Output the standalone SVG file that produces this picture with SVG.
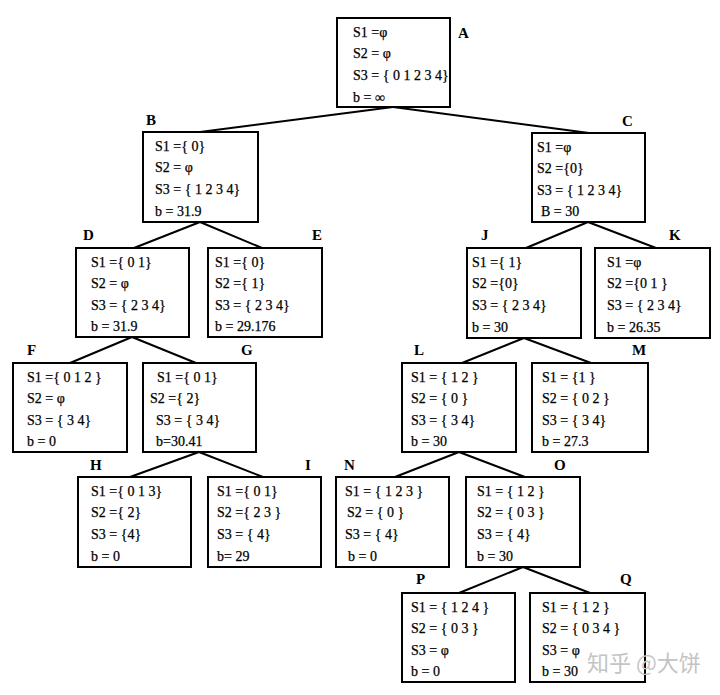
<svg xmlns="http://www.w3.org/2000/svg" width="720" height="695" viewBox="0 0 720 695">
<style>
.bx{fill:#fff;stroke:#000;stroke-width:2}
.t{font-family:"Liberation Serif","Times New Roman",serif;font-size:14px;fill:#000;stroke:#000;stroke-width:0.25}
.lb{font-family:"Liberation Serif","Times New Roman",serif;font-size:15px;font-weight:bold;fill:#000}
.ln{stroke:#000;stroke-width:2;fill:none}
.wm{font-family:"Noto Sans CJK SC",sans-serif;font-size:22px;fill:#c4c4c4}
</style>
<rect width="720" height="695" fill="#fff"/>
<g id="connectors">
<line class="ln" x1="393" y1="107" x2="200" y2="132"/>
<line class="ln" x1="393" y1="107" x2="589" y2="133"/>
<line class="ln" x1="200" y1="222" x2="134" y2="248"/>
<line class="ln" x1="200" y1="222" x2="262" y2="248"/>
<line class="ln" x1="588" y1="222" x2="526" y2="248"/>
<line class="ln" x1="588" y1="222" x2="656" y2="248"/>
<line class="ln" x1="132" y1="337" x2="70" y2="363"/>
<line class="ln" x1="132" y1="337" x2="196" y2="363"/>
<line class="ln" x1="524" y1="338" x2="462" y2="363"/>
<line class="ln" x1="524" y1="338" x2="591" y2="363"/>
<line class="ln" x1="199" y1="452" x2="130" y2="477"/>
<line class="ln" x1="199" y1="452" x2="263" y2="477"/>
<line class="ln" x1="459" y1="452" x2="395" y2="477"/>
<line class="ln" x1="459" y1="452" x2="525" y2="477"/>
<line class="ln" x1="523" y1="567" x2="459" y2="593"/>
<line class="ln" x1="523" y1="567" x2="590" y2="593"/>
</g>
<g id="A"><rect class="bx" x="337" y="18" width="113" height="89"/>
<text class="t" x="353" y="37">S1 =φ</text><text class="t" x="353" y="58">S2 = φ</text><text class="t" x="353" y="80">S3 = { 0 1 2 3 4}</text><text class="t" x="353" y="102">b = ∞</text>
<text class="lb" x="458" y="38">A</text></g>
<g id="B"><rect class="bx" x="143" y="132" width="115" height="90"/>
<text class="t" x="155" y="151">S1 ={ 0}</text><text class="t" x="155" y="172">S2 = φ</text><text class="t" x="155" y="194">S3 = { 1 2 3 4}</text><text class="t" x="155" y="216">b = 31.9</text>
<text class="lb" x="146" y="125">B</text></g>
<g id="C"><rect class="bx" x="532" y="133" width="113" height="89"/>
<text class="t" x="537" y="152">S1 =φ</text><text class="t" x="537" y="173">S2 ={0}</text><text class="t" x="537" y="195">S3 = { 1 2 3 4}</text><text class="t" x="541" y="216">B = 30</text>
<text class="lb" x="622" y="126">C</text></g>
<g id="D"><rect class="bx" x="76" y="248" width="113" height="89"/>
<text class="t" x="91" y="267">S1 ={ 0 1}</text><text class="t" x="91" y="288">S2 = φ</text><text class="t" x="91" y="310">S3 = { 2 3 4}</text><text class="t" x="91" y="331">b = 31.9</text>
<text class="lb" x="83" y="240">D</text></g>
<g id="E"><rect class="bx" x="208" y="248" width="114" height="89"/>
<text class="t" x="215" y="267">S1 ={ 0}</text><text class="t" x="215" y="288">S2 ={ 1}</text><text class="t" x="215" y="310">S3 = { 2 3 4}</text><text class="t" x="215" y="331">b = 29.176</text>
<text class="lb" x="312" y="240">E</text></g>
<g id="J"><rect class="bx" x="467" y="248" width="114" height="90"/>
<text class="t" x="472" y="267">S1 ={ 1}</text><text class="t" x="472" y="288">S2 ={0}</text><text class="t" x="472" y="310">S3 = { 2 3 4}</text><text class="t" x="472" y="332">b = 30</text>
<text class="lb" x="481" y="240">J</text></g>
<g id="K"><rect class="bx" x="595" y="248" width="115" height="90"/>
<text class="t" x="607" y="267">S1 =φ</text><text class="t" x="607" y="288">S2 ={0 1 }</text><text class="t" x="607" y="310">S3 = { 2 3 4}</text><text class="t" x="607" y="332">b = 26.35</text>
<text class="lb" x="669" y="240">K</text></g>
<g id="F"><rect class="bx" x="13" y="363" width="114" height="89"/>
<text class="t" x="27" y="382">S1 ={ 0 1 2 }</text><text class="t" x="27" y="403">S2 = φ</text><text class="t" x="27" y="425">S3 = { 3 4}</text><text class="t" x="27" y="446">b = 0</text>
<text class="lb" x="27" y="355">F</text></g>
<g id="G"><rect class="bx" x="143" y="363" width="113" height="89"/>
<text class="t" x="157" y="382">S1 ={ 0 1}</text><text class="t" x="150" y="403">S2 ={ 2}</text><text class="t" x="156" y="425">S3 = { 3 4}</text><text class="t" x="156" y="446">b=30.41</text>
<text class="lb" x="241" y="355">G</text></g>
<g id="L"><rect class="bx" x="402" y="363" width="114" height="89"/>
<text class="t" x="411" y="382">S1 = { 1 2 }</text><text class="t" x="411" y="403">S2 = { 0 }</text><text class="t" x="411" y="425">S3 = { 3 4}</text><text class="t" x="411" y="446">b = 30</text>
<text class="lb" x="414" y="355">L</text></g>
<g id="M"><rect class="bx" x="532" y="363" width="116" height="89"/>
<text class="t" x="542" y="382">S1 = {1 }</text><text class="t" x="542" y="403">S2 = { 0 2 }</text><text class="t" x="542" y="425">S3 = { 3 4}</text><text class="t" x="542" y="446">b = 27.3</text>
<text class="lb" x="632" y="355">M</text></g>
<g id="H"><rect class="bx" x="78" y="477" width="113" height="90"/>
<text class="t" x="91" y="496">S1 ={ 0 1 3}</text><text class="t" x="91" y="517">S2 ={ 2}</text><text class="t" x="91" y="539">S3 = {4}</text><text class="t" x="91" y="561">b = 0</text>
<text class="lb" x="90" y="470">H</text></g>
<g id="I"><rect class="bx" x="208" y="477" width="113" height="90"/>
<text class="t" x="217" y="496">S1 ={ 0 1}</text><text class="t" x="217" y="517">S2 ={ 2 3 }</text><text class="t" x="217" y="539">S3 = { 4}</text><text class="t" x="217" y="561">b= 29</text>
<text class="lb" x="305" y="470">I</text></g>
<g id="N"><rect class="bx" x="336" y="477" width="113" height="90"/>
<text class="t" x="345" y="496">S1 = { 1 2 3 }</text><text class="t" x="347" y="517">S2 = { 0 }</text><text class="t" x="345" y="539">S3 = { 4}</text><text class="t" x="348" y="561">b = 0</text>
<text class="lb" x="344" y="470">N</text></g>
<g id="O"><rect class="bx" x="466" y="477" width="114" height="90"/>
<text class="t" x="477" y="496">S1 = { 1 2 }</text><text class="t" x="477" y="517">S2 = { 0 3 }</text><text class="t" x="477" y="539">S3 = { 4}</text><text class="t" x="477" y="561">b = 30</text>
<text class="lb" x="554" y="470">O</text></g>
<g id="P"><rect class="bx" x="402" y="593" width="113" height="89"/>
<text class="t" x="411" y="612">S1 = { 1 2 4 }</text><text class="t" x="411" y="633">S2 = { 0 3 }</text><text class="t" x="411" y="655">S3 = φ</text><text class="t" x="411" y="676">b = 0</text>
<text class="lb" x="416" y="584">P</text></g>
<g id="Q"><rect class="bx" x="530" y="593" width="115" height="89"/>
<text class="t" x="542" y="612">S1 = { 1 2 }</text><text class="t" x="542" y="633">S2 = { 0 3 4 }</text><text class="t" x="542" y="655">S3 = φ</text><text class="t" x="542" y="676">b = 30</text>
<text class="lb" x="620" y="584">Q</text></g>
<text class="wm" x="587" y="671">知乎 @大饼</text>
</svg>
